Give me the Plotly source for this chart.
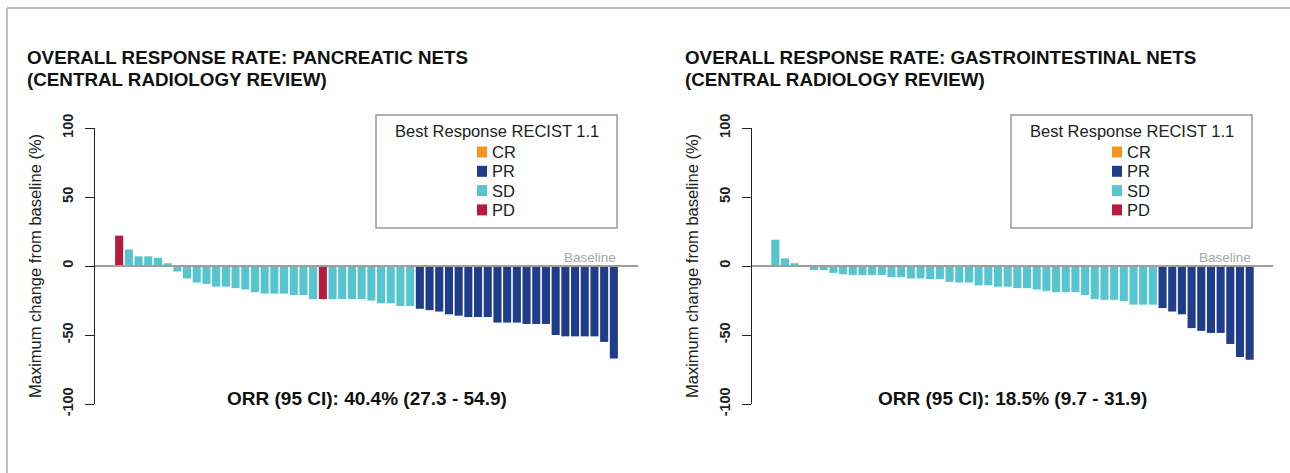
import plotly.graph_objects as go

# ---------------- data ----------------
categories = ["CR", "PR", "SD", "PD"]
cat_colors = ["#F7941D", "#1F3D8A", "#56C5D0", "#B81B40"]

pan_values = [22, 12, 7, 7, 6, 2, -4, -9, -12, -13, -15, -15, -16, -17, -19, -20,
              -20, -20, -21, -21, -24, -24, -24, -24, -24, -24, -25, -27, -27, -29,
              -29, -31, -32, -33, -35, -36, -37, -37, -37, -41, -41, -41, -42, -42,
              -42, -50, -51, -51, -51, -51, -55, -67]
pan_status = ["PD", "SD", "SD", "SD", "SD", "SD", "SD", "SD", "SD", "SD", "SD", "SD",
              "SD", "SD", "SD", "SD", "SD", "SD", "SD", "SD", "SD", "PD", "SD", "SD",
              "SD", "SD", "SD", "SD", "SD", "SD", "SD", "PR", "PR", "PR", "PR", "PR",
              "PR", "PR", "PR", "PR", "PR", "PR", "PR", "PR", "PR", "PR", "PR", "PR",
              "PR", "PR", "PR", "PR"]

gi_values = [19, 5.5, 2, 0, -3, -3, -5, -6, -6.5, -6.5, -6.5, -6.5, -8, -8, -9, -9,
             -9.5, -9.5, -11.5, -12, -12, -14, -14, -15, -15, -16, -16, -17, -18, -19,
             -19, -19, -21, -24, -24.5, -24.5, -25.5, -28, -28, -28, -30.5, -33, -35,
             -45, -47, -48.5, -48.5, -56.5, -66, -68]
gi_status = ["SD", "SD", "SD", "SD", "SD", "SD", "SD", "SD", "SD", "SD", "SD", "SD",
             "SD", "SD", "SD", "SD", "SD", "SD", "SD", "SD", "SD", "SD", "SD", "SD",
             "SD", "SD", "SD", "SD", "SD", "SD", "SD", "SD", "SD", "SD", "SD", "SD",
             "SD", "SD", "SD", "SD", "PR", "PR", "PR", "PR", "PR", "PR", "PR", "PR",
             "PR", "PR"]

titles_line1 = ["OVERALL RESPONSE RATE: PANCREATIC NETS",
                "OVERALL RESPONSE RATE: GASTROINTESTINAL NETS"]
title_line2 = "(CENTRAL RADIOLOGY REVIEW)"
orr_texts = ["ORR (95 CI): 40.4% (27.3 - 54.9)", "ORR (95 CI): 18.5% (9.7 - 31.9)"]
y_ticks = [-100, -50, 0, 50, 100]
legend_title = "Best Response RECIST 1.1"
ytitle = "Maximum change from baseline (%)"

# ---------------- layout helpers ----------------
W, H = 1290, 473
FONT = "Liberation Sans, Arial, Helvetica, sans-serif"


def px(x):
    return x / W


def py(y):
    return 1 - y / H


panels = [
    dict(values=pan_values, status=pan_status, xa="x", ya="y",
         dom=(95, 638), title_x=25, box=(376, 617)),
    dict(values=gi_values, status=gi_status, xa="x2", ya="y2",
         dom=(752, 1273), title_x=683, box=(1011, 1252)),
]

fig = go.Figure()
shapes = []
annotations = []

for i, p in enumerate(panels):
    n = len(p["values"])
    idx = list(range(n))
    for cat, col in zip(categories, cat_colors):
        xs = [k for k in idx if p["status"][k] == cat]
        ys = [p["values"][k] for k in xs]
        fig.add_trace(go.Bar(x=xs, y=ys, name=cat, width=1 / 1.2,
                             marker=dict(color=col, line=dict(width=0)),
                             xaxis=p["xa"], yaxis=p["ya"], showlegend=False))
    pad = 2.49 if n == 52 else 2.41
    xkey = "xaxis" if i == 0 else "xaxis2"
    ykey = "yaxis" if i == 0 else "yaxis2"
    fig.update_layout({
        xkey: dict(domain=[px(p["dom"][0]), px(p["dom"][1])],
                   range=[-pad, n - 1 + pad], visible=False, fixedrange=True,
                   anchor=p["ya"], automargin=False),
        ykey: dict(domain=[py(404), py(128)], range=[-100, 100],
                   anchor=p["xa"], tickvals=y_ticks,
                   ticktext=[str(v) for v in y_ticks],
                   ticks="outside", ticklen=9, tickwidth=1, tickcolor="#222",
                   tickangle=-90, ticklabelstandoff=6, automargin=False,
                   tickfont=dict(family=FONT, size=14.5, color="#222", weight="bold"),
                   showline=True, linecolor="#222", linewidth=1,
                   showgrid=False, zeroline=False, fixedrange=True),
    })
    x0, x1 = p["dom"]
    # baseline
    shapes.append(dict(type="line", xref="paper", yref=p["ya"],
                       x0=px(x0), x1=px(x1), y0=0, y1=0,
                       line=dict(color="#9E9E9E", width=2), layer="above"))
    annotations.append(dict(text="Baseline", xref="paper", yref="paper",
                            x=px(p["box"][1] + 1), y=py(257), xanchor="right",
                            yanchor="middle", showarrow=False,
                            font=dict(family=FONT, size=13.5, color="#A6A6A6")))
    # titles
    annotations.append(dict(text=titles_line1[i], xref="paper", yref="paper",
                            x=px(p["title_x"]), y=py(57), xanchor="left",
                            yanchor="middle", showarrow=False,
                            font=dict(family=FONT, size=18.8, color="#111", weight="bold")))
    annotations.append(dict(text=title_line2, xref="paper", yref="paper",
                            x=px(p["title_x"]), y=py(79), xanchor="left",
                            yanchor="middle", showarrow=False,
                            font=dict(family=FONT, size=18.8, color="#111", weight="bold")))
    # y title
    annotations.append(dict(text=ytitle, xref="paper", yref="paper",
                            x=px(x0 - 60), y=py(266), xanchor="center",
                            yanchor="middle", textangle=-90, showarrow=False,
                            font=dict(family=FONT, size=16.5, color="#222")))
    # ORR text
    annotations.append(dict(text=orr_texts[i], xref="paper", yref="paper",
                            x=px((x0 + x1) / 2), y=py(398), xanchor="center",
                            yanchor="middle", showarrow=False,
                            font=dict(family=FONT, size=19, color="#111", weight="bold")))
    # legend box
    bl, br = p["box"]
    shapes.append(dict(type="rect", xref="paper", yref="paper",
                       x0=px(bl), x1=px(br), y0=py(115), y1=py(228),
                       line=dict(color="#999999", width=1.5), fillcolor="rgba(0,0,0,0)"))
    annotations.append(dict(text=legend_title, xref="paper", yref="paper",
                            x=px((bl + br) / 2), y=py(131), xanchor="center",
                            yanchor="middle", showarrow=False,
                            font=dict(family=FONT, size=16.5, color="#222")))
    for j, (cat, col) in enumerate(zip(categories, cat_colors)):
        yc = 152 + j * 19.3
        shapes.append(dict(type="rect", xref="paper", yref="paper",
                           x0=px(bl + 101), x1=px(bl + 111),
                           y0=py(yc + 5.5), y1=py(yc - 5.5),
                           line=dict(width=0), fillcolor=col))
        annotations.append(dict(text=cat, xref="paper", yref="paper",
                                x=px(bl + 114), y=py(yc), xanchor="left",
                                yanchor="middle", showarrow=False,
                                font=dict(family=FONT, size=16.5, color="#222")))

# outer frame: top and left edges only (the rest runs off the picture)
shapes.append(dict(type="line", xref="paper", yref="paper",
                   x0=px(7), x1=1, y0=py(8), y1=py(8),
                   line=dict(color="#AAAAAA", width=1.5), layer="below"))
shapes.append(dict(type="line", xref="paper", yref="paper",
                   x0=px(7), x1=px(7), y0=py(8), y1=0,
                   line=dict(color="#AAAAAA", width=1.5), layer="below"))

fig.update_layout(width=W, height=H, margin=dict(l=0, r=0, t=0, b=0, pad=0,
                                                 autoexpand=False),
                  paper_bgcolor="white", plot_bgcolor="white",
                  barmode="overlay", showlegend=False,
                  shapes=shapes, annotations=annotations,
                  font=dict(family=FONT))

fig.write_html("out.html", config={"displayModeBar": False},
               post_script="document.body.style.margin='0';"
                           "document.body.style.overflow='hidden';"
                           "document.documentElement.style.overflow='hidden';")
